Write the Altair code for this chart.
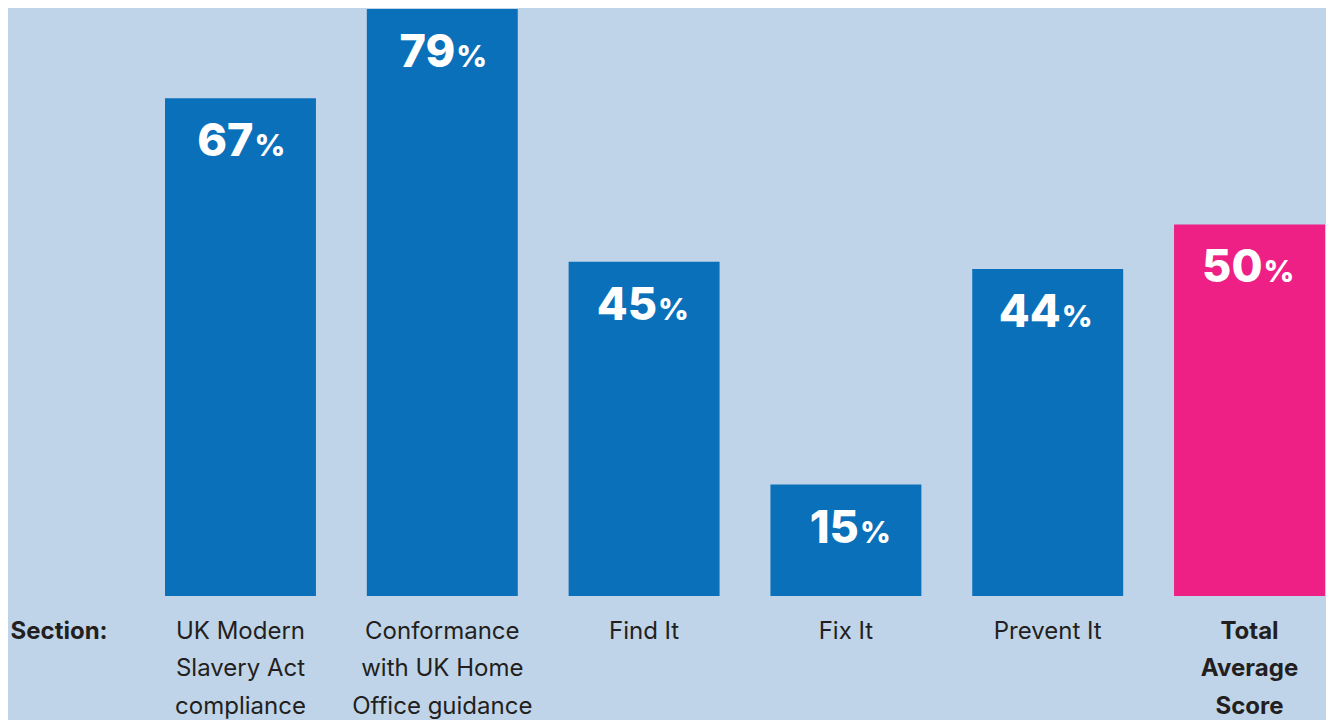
import altair as alt
import pandas as pd

# ---- data ----
sections = [
    "UK Modern|Slavery Act|compliance",
    "Conformance|with UK Home|Office guidance",
    "Find It",
    "Fix It",
    "Prevent It",
    "Total|Average|Score",
]
scores = [67, 79, 45, 15, 44, 50]
kinds = ["section", "section", "section", "section", "section", "total"]

df = pd.DataFrame({"section": sections, "score": scores, "kind": kinds})

BG = "#bfd4e8"
BLUE = "#0b70ba"
PINK = "#ee1f85"
INK = "#231f20"
LABEL_FONT = "Inter"
NUM_FONT = "Inter"

x = alt.X(
    "section:N",
    sort=sections,
    scale=alt.Scale(paddingInner=0.252, paddingOuter=0.005),
    axis=alt.Axis(
        title="Section:",
        titleAngle=0,
        titleAlign="left",
        titleBaseline="alphabetic",
        titleX=-154,
        titleY=42,
        titleFont=LABEL_FONT,
        titleFontSize=24,
        titleFontWeight="bold",
        titleColor=INK,
        labelAngle=0,
        labelExpr="split(datum.label, '|')",
        labelFont=LABEL_FONT,
        labelFontSize=24,
        labelLineHeight=37.5,
        labelPadding=23,
        labelLimit=400,
        labelColor=INK,
        labelFontWeight={
            "condition": {"test": "datum.value == 'Total|Average|Score'", "value": "bold"},
            "value": "normal",
        },
        ticks=False,
        domain=False,
        grid=False,
    ),
)
y = alt.Y("score:Q", scale=alt.Scale(domain=[0, 79.134], nice=False, zero=True), axis=None)

base = alt.Chart(df)

bars = base.mark_bar().encode(
    x=x,
    y=y,
    color=alt.Color("kind:N", scale=alt.Scale(domain=["section", "total"], range=[BLUE, PINK]), legend=None),
)

nums = base.mark_text(
    align="right", baseline="alphabetic", dx=13, dy=58,
    font=NUM_FONT, fontSize=45, fontWeight=800, color="white",
).encode(x=x, y=y, text=alt.Text("score:Q"))

pct = base.mark_text(
    align="left", baseline="alphabetic", dx=14, dy=58, text="%",
    font=NUM_FONT, fontSize=30, fontWeight=800, color="white",
).encode(x=x, y=y)

chart = (
    alt.layer(bars, nums, pct)
    .properties(
        width=1162,
        height=588,
        background=BG,
        padding={"left": 156, "top": 0, "right": 0, "bottom": 124},
        autosize=alt.AutoSizeParams(type="none"),
    )
    .configure_view(stroke=None)
)

chart.save("out.html", embed_options={"renderer": "svg", "actions": False})
